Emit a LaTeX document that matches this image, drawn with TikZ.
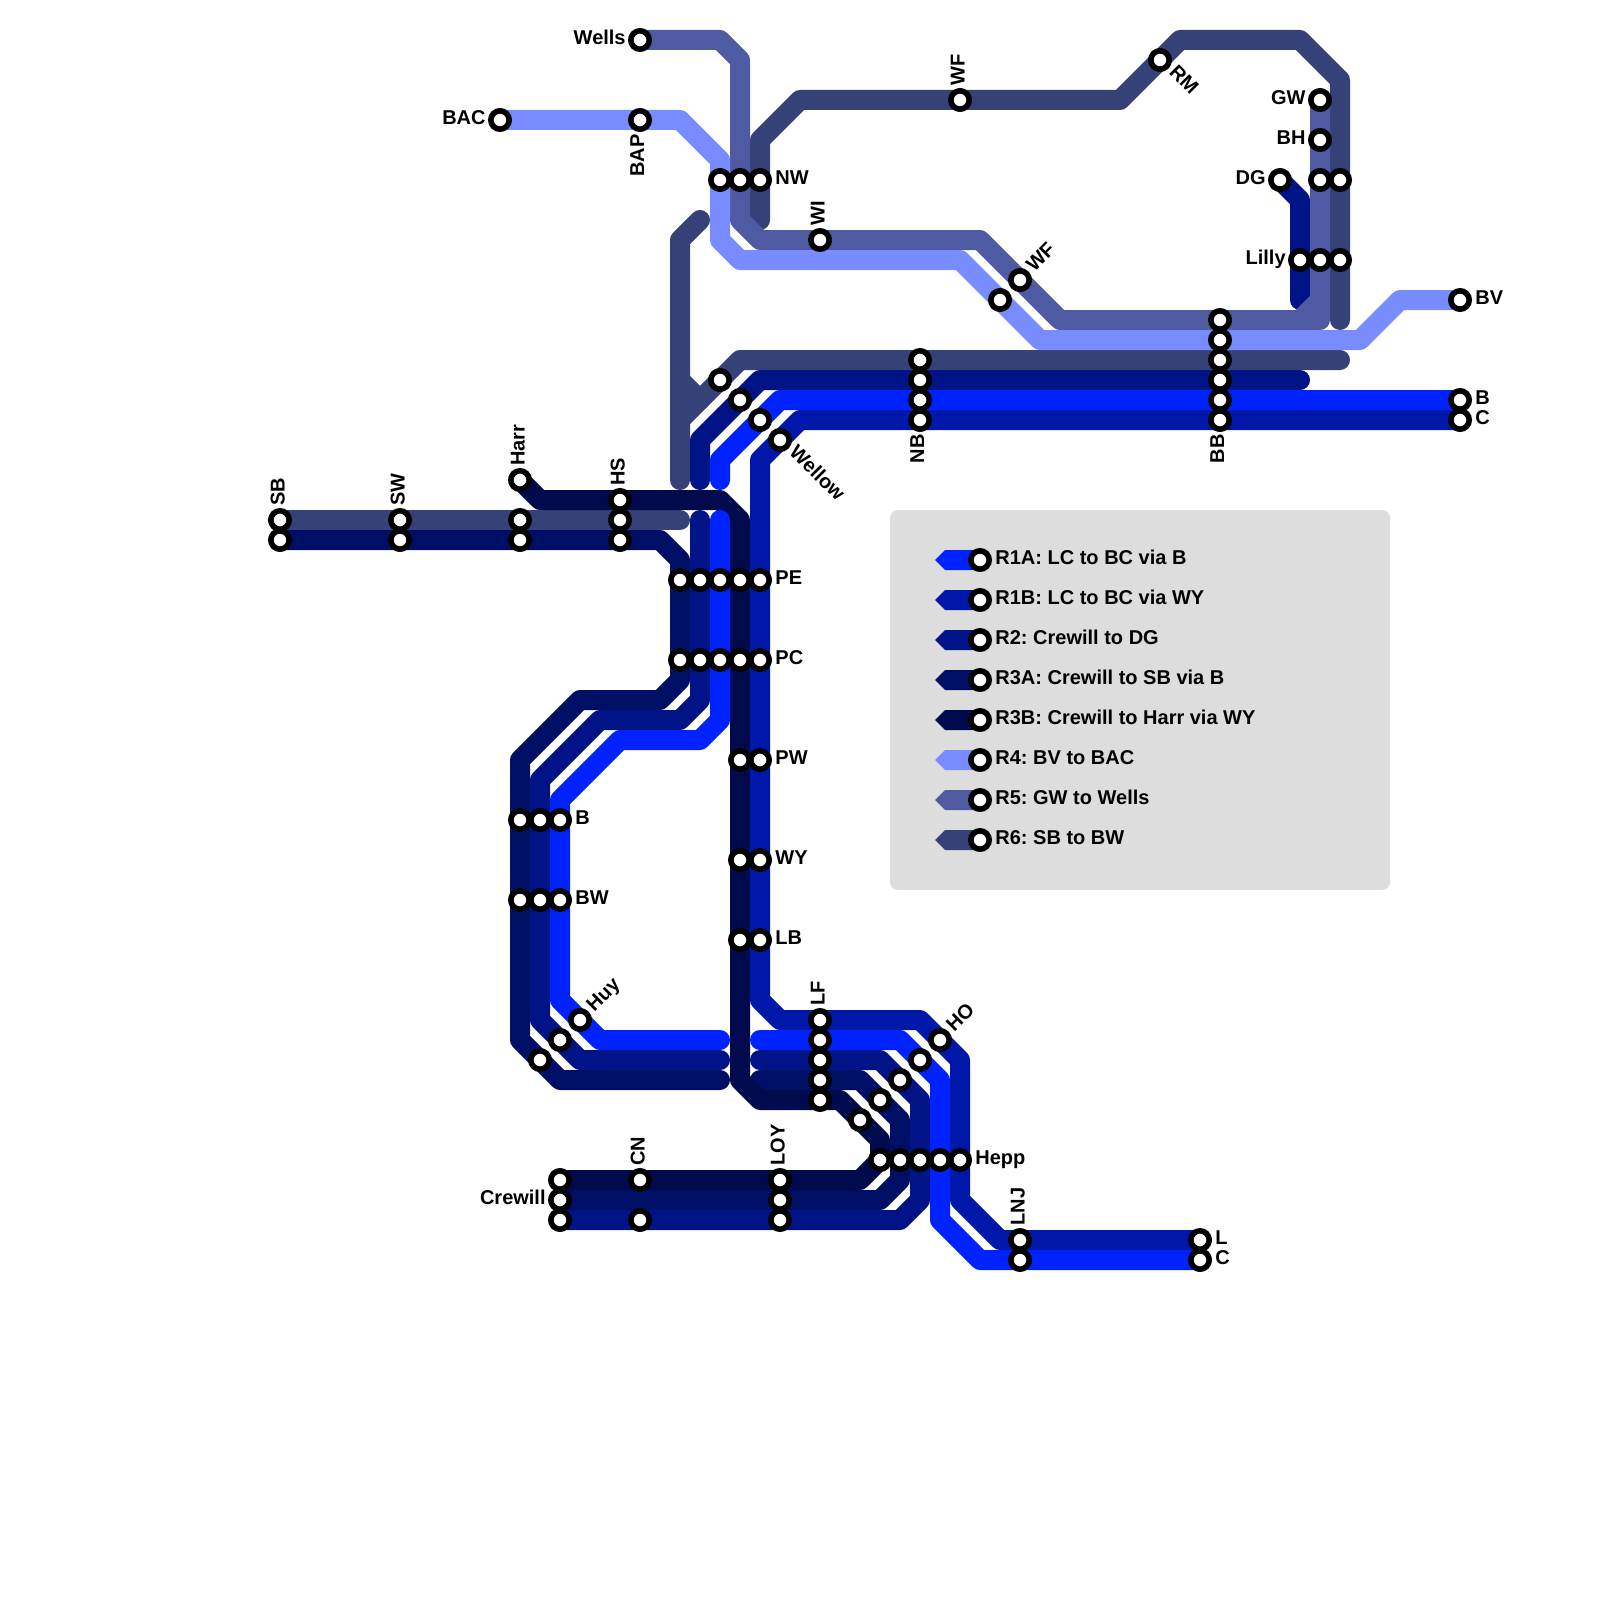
\documentclass[tikz,border=0pt]{standalone}
\usepackage{fontspec}
\usepackage{xcolor}
\setmainfont{Liberation Sans}
\usetikzlibrary{backgrounds}
\frenchspacing

\definecolor{routeOneA}{RGB}{0,34,255}
\definecolor{routeOneB}{RGB}{0,24,170}
\definecolor{routeTwo}{RGB}{0,20,136}
\definecolor{routeThreeA}{RGB}{0,15,102}
\definecolor{routeThreeB}{RGB}{0,10,77}
\definecolor{routeFour}{RGB}{120,140,255}
\definecolor{routeFive}{RGB}{78,90,162}
\definecolor{routeSix}{RGB}{54,65,120}
\definecolor{keyGrey}{RGB}{221,221,221}

\tikzset{
    route/.style={line width=10pt, line cap=round, line join=round},
    station/.style={circle, draw=black, fill=white, line width=2.8pt, minimum size=9.2pt, inner sep=0pt},
    lab/.style={font=\bfseries\fontsize{10}{10}\selectfont, inner sep=0pt, text=black},
}

\begin{document}
\begin{tikzpicture}[x=0.5pt, y=-0.5pt]
    \useasboundingbox (0,0) rectangle (1600,1600);

    % Grey box behind the key
    \fill[keyGrey, rounded corners=4pt] (890,510) rectangle (1390,890);

    % Place the stations, each list is name/x/y
    \foreach \n/\x/\y in {Wells/640/40, BAP/640/120, BAC/500/120, WFa/960/100, RM/1160/60,
        GW/1320/100, BH/1320/140, DG/1280/180, DGb/1320/180, DGc/1340/180,
        Lilly/1300/260, Lillyb/1320/260, Lillyc/1340/260,
        NWa/720/180, NWb/740/180, NW/760/180, WI/820/240, WFb/1020/280, WFc/1000/300, BV/1460/300,
        BBa/1220/320, BBb/1220/340, BBc/1220/360, BBd/1220/380, BBe/1220/400, BB/1220/420,
        NBa/920/360, NBb/920/380, NBc/920/400, NB/920/420, EndB/1460/400, EndC/1460/420,
        Wa/720/380, Wb/740/400, Wc/760/420, Wellow/780/440,
        SB/280/520, SBb/280/540, SW/400/520, SWb/400/540,
        Harr/520/480, Harrb/520/520, Harrc/520/540, HS/620/500, HSb/620/520, HSc/620/540,
        PEa/680/580, PEb/700/580, PEc/720/580, PEd/740/580, PE/760/580,
        PCa/680/660, PCb/700/660, PCc/720/660, PCd/740/660, PC/760/660,
        PWa/740/760, PW/760/760, WYa/740/860, WY/760/860, LBa/740/940, LB/760/940,
        Ba/520/820, Bb/540/820, B/560/820, BWa/520/900, BWb/540/900, BW/560/900,
        Huy/580/1020, Huyb/560/1040, Huyc/540/1060,
        LF/820/1020, LFb/820/1040, LFc/820/1060, LFd/820/1080, LFe/820/1100,
        HO/940/1040, HOb/920/1060, HOc/900/1080, HOd/880/1100, HOe/860/1120,
        Heppa/880/1160, Heppb/900/1160, Heppc/920/1160, Heppd/940/1160, Hepp/960/1160,
        CN/640/1180, CNb/640/1220, LOY/780/1180, LOYb/780/1200, LOYc/780/1220,
        Crewa/560/1180, Crew/560/1200, Crewc/560/1220,
        LNJ/1020/1240, LNJb/1020/1260, EndL/1200/1240, EndLC/1200/1260} {
        \node[station] (\n) at (\x,\y) {};
    }

    % Free ends of the routes
    \coordinate (sixA) at (680,480);
    \coordinate (sixB) at (1340,360);
    \coordinate (sixC) at (700,220);
    \coordinate (sixD) at (700,400);
    \coordinate (sixE) at (680,520);
    \coordinate (sixF) at (760,220);
    \coordinate (sixG) at (1340,320);
    \coordinate (sixH) at (680,380);
    \coordinate (sixI) at (680,420);
    \coordinate (fiveA) at (1300,320);
    \coordinate (fiveB) at (1320,300);
    \coordinate (twoA) at (700,480);
    \coordinate (twoB) at (1300,380);
    \coordinate (twoC) at (700,520);
    \coordinate (twoD) at (720,1060);
    \coordinate (twoE) at (760,1060);
    \coordinate (twoF) at (1300,300);
    \coordinate (oneA) at (720,480);
    \coordinate (oneB) at (720,520);
    \coordinate (oneC) at (720,1040);
    \coordinate (oneD) at (760,1040);
    \coordinate (threeA) at (720,1080);
    \coordinate (threeB) at (760,1080);

    % Draw the routes under the stations
    \begin{scope}[on background layer]
        \draw[route, routeSix] (SB.center) -- (sixE);
        \draw[route, routeSix] (sixC) -- (680,240) -- (sixA);
        \draw[route, routeSix] (sixH) -- (sixD);
        \draw[route, routeSix] (sixI) -- (740,360) -- (sixB);
        \draw[route, routeSix] (sixG) -- (1340,80) -- (1300,40) -- (1180,40) -- (1120,100) -- (800,100) -- (760,140) -- (sixF);

        \draw[route, routeThreeA] (SBb.center) -- (660,540) -- (680,560) -- (680,680) -- (660,700) -- (580,700) -- (520,760) -- (520,1040) -- (560,1080) -- (threeA);
        \draw[route, routeThreeA] (threeB) -- (860,1080) -- (900,1120) -- (900,1180) -- (880,1200) -- (Crew.center);

        \draw[route, routeThreeB] (Harr.center) -- (540,500) -- (720,500) -- (740,520) -- (740,1080) -- (760,1100) -- (840,1100) -- (880,1140) -- (880,1160) -- (860,1180) -- (Crewa.center);

        \draw[route, routeTwo] (twoA) -- (700,440) -- (760,380) -- (twoB);
        \draw[route, routeTwo] (twoC) -- (700,700) -- (680,720) -- (600,720) -- (540,780) -- (540,1020) -- (580,1060) -- (twoD);
        \draw[route, routeTwo] (twoE) -- (880,1060) -- (920,1100) -- (920,1200) -- (900,1220) -- (Crewc.center);
        \draw[route, routeTwo] (DG.center) -- (1300,200) -- (twoF);

        \draw[route, routeFive] (Wells.center) -- (720,40) -- (740,60) -- (740,220) -- (760,240) -- (980,240) -- (1060,320) -- (1320,320) -- (GW.center);
        \draw[route, routeFive] (fiveA) -- (fiveB);

        \draw[route, routeOneB] (EndC.center) -- (800,420) -- (760,460) -- (760,1000) -- (780,1020) -- (920,1020) -- (960,1060) -- (960,1200) -- (1000,1240) -- (EndL.center);
        \draw[route, routeOneA] (EndB.center) -- (780,400) -- (720,460) -- (oneA);
        \draw[route, routeOneA] (oneB) -- (720,720) -- (700,740) -- (620,740) -- (560,800) -- (560,1000) -- (600,1040) -- (oneC);
        \draw[route, routeOneA] (oneD) -- (900,1040) -- (940,1080) -- (940,1220) -- (980,1260) -- (EndLC.center);

        \draw[route, routeFour] (BAC.center) -- (680,120) -- (720,160) -- (720,240) -- (740,260) -- (960,260) -- (1040,340) -- (1360,340) -- (1400,300) -- (BV.center);
    \end{scope}

    % Labels to the right of the stations
    \foreach \n/\t in {NW/NW, PE/PE, PC/PC, PW/PW, WY/WY, LB/LB, B/B, BW/BW, Hepp/Hepp, BV/BV, EndB/B, EndC/C, EndL/L, EndLC/C} {
        \node[lab, anchor=base west] (lab\n) at ([shift={(15,4.5)}]\n.center) {\t};
    }
    % Labels to the left
    \foreach \n/\t in {Wells/Wells, BAC/BAC, GW/GW, BH/BH, DG/DG, Lilly/Lilly, Crew/Crewill} {
        \node[lab, anchor=base east] (lab\n) at ([shift={(-14,4.5)}]\n.center) {\t};
    }
    % Labels going up
    \foreach \n/\t in {WFa/WF, WI/WI, SB/SB, SW/SW, Harr/Harr, HS/HS, LF/LF, CN/CN, LOY/LOY, LNJ/LNJ} {
        \node[lab, anchor=base west, rotate=90] (lab\n) at ([shift={(4.5,-14)}]\n.center) {\t};
    }
    % Labels going down
    \foreach \n/\t in {BAP/BAP, NB/NB, BB/BB} {
        \node[lab, anchor=base east, rotate=90] (lab\n) at ([shift={(4,14)}]\n.center) {\t};
    }
    % Slanted labels
    \foreach \n/\t in {WFb/WF, Huy/Huy, HO/HO} {
        \node[lab, anchor=base west, rotate=45] (lab\n) at ([shift={(14,-7)}]\n.center) {\t};
    }
    \foreach \n/\t in {RM/RM, Wellow/Wellow} {
        \node[lab, anchor=base west, rotate=-45] (lab\n) at ([shift={(8,13)}]\n.center) {\t};
    }

    % Key, one row every 40
    \foreach \c/\t [count=\i from 0] in {routeOneA/R1A: LC to BC via B, routeOneB/R1B: LC to BC via WY,
        routeTwo/R2: Crewill to DG, routeThreeA/R3A: Crewill to SB via B, routeThreeB/R3B: Crewill to Harr via WY,
        routeFour/R4: BV to BAC, routeFive/R5: GW to Wells, routeSix/R6: SB to BW} {
        \fill[\c] (935,{560+40*\i}) -- (945,{550+40*\i}) -- (980,{550+40*\i}) -- (980,{570+40*\i}) -- (945,{570+40*\i}) -- cycle;
        \node[station] (key\i) at (980,{560+40*\i}) {};
        \node[lab, anchor=base west] (keylab\i) at ([shift={(15,4.5)}]key\i.center) {\t};
    }
\end{tikzpicture}
\end{document}
